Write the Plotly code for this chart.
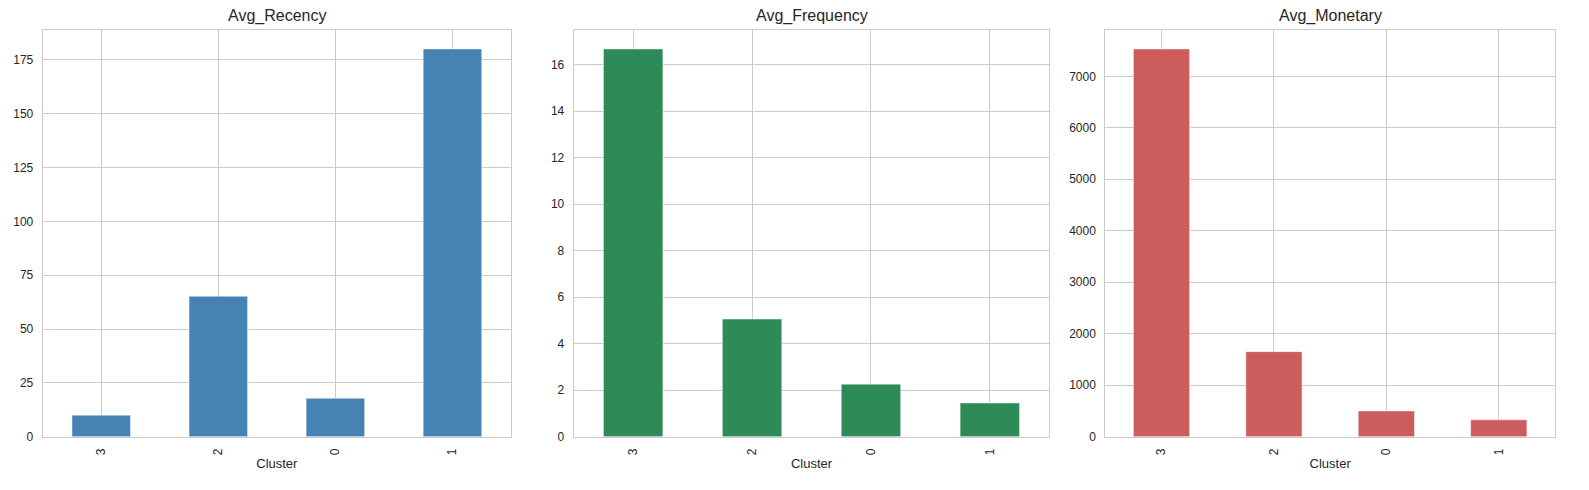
import plotly.graph_objects as go

clusters = ["3", "2", "0", "1"]
avg_recency = [10, 65.2, 17.8, 180.1]
avg_frequency = [16.68, 5.06, 2.26, 1.45]
avg_monetary = [7532, 1652, 500, 327]

panels = [
    ("Avg_Recency", avg_recency, "#4682B4", 25),
    ("Avg_Frequency", avg_frequency, "#2E8B57", 2),
    ("Avg_Monetary", avg_monetary, "#CD5C5C", 1000),
]

# положение панелей (в долях окна 1589x490)
W, H = 1589, 490
x_domains = [(42.7 / W, 511 / W), (573.7 / W, 1049.3 / W), (1105.3 / W, 1555 / W)]
y_domain = (1 - 443 / H, 1 - 30 / H)

text_color = "#262626"
grid_color = "#cccccc"

fig = go.Figure()
annotations = []
layout_axes = {}

for i, (title, values, color, dtick) in enumerate(panels):
    n = "" if i == 0 else str(i + 1)
    fig.add_trace(go.Bar(
        x=clusters,
        y=values,
        width=0.5,
        marker=dict(color=color, line=dict(color="rgba(255,255,255,0.45)", width=1)),
        xaxis="x" + n,
        yaxis="y" + n,
        showlegend=False,
        hovertemplate="Cluster %{x}: %{y}<extra></extra>",
    ))

    layout_axes["xaxis" + n] = dict(
        domain=x_domains[i],
        anchor="y" + n,
        type="category",
        range=[-0.5, 3.5],
        tickangle=-90,
        showgrid=True,
        gridcolor=grid_color,
        showline=True,
        linecolor=grid_color,
        mirror=True,
        ticks="",
        ticklabelstandoff=6,
        tickfont=dict(size=12, color=text_color),
        title=dict(text="Cluster", font=dict(size=13, color=text_color), standoff=4),
    )
    layout_axes["yaxis" + n] = dict(
        domain=y_domain,
        anchor="x" + n,
        range=[0, max(values) * 1.05],
        dtick=dtick,
        showgrid=True,
        gridcolor=grid_color,
        zeroline=False,
        showline=True,
        linecolor=grid_color,
        mirror=True,
        ticks="",
        ticklabelstandoff=6,
        tickfont=dict(size=12, color=text_color),
    )

    annotations.append(dict(
        text=title,
        x=(x_domains[i][0] + x_domains[i][1]) / 2,
        y=1 - 16 / H,
        xref="paper",
        yref="paper",
        xanchor="center",
        yanchor="middle",
        showarrow=False,
        font=dict(size=16, color=text_color),
    ))

fig.update_layout(
    width=W,
    height=H,
    margin=dict(l=0, r=0, t=0, b=0),
    paper_bgcolor="white",
    plot_bgcolor="white",
    font=dict(family="Liberation Sans, Arial, sans-serif", color=text_color),
    annotations=annotations,
    bargap=0.5,
    **layout_axes,
)

# убираем отступы страницы, чтобы картинка точно легла в окно
fig.write_html(
    "out.html",
    config={"displayModeBar": False},
    post_script="document.body.style.margin='0';document.body.style.overflow='hidden';",
)
